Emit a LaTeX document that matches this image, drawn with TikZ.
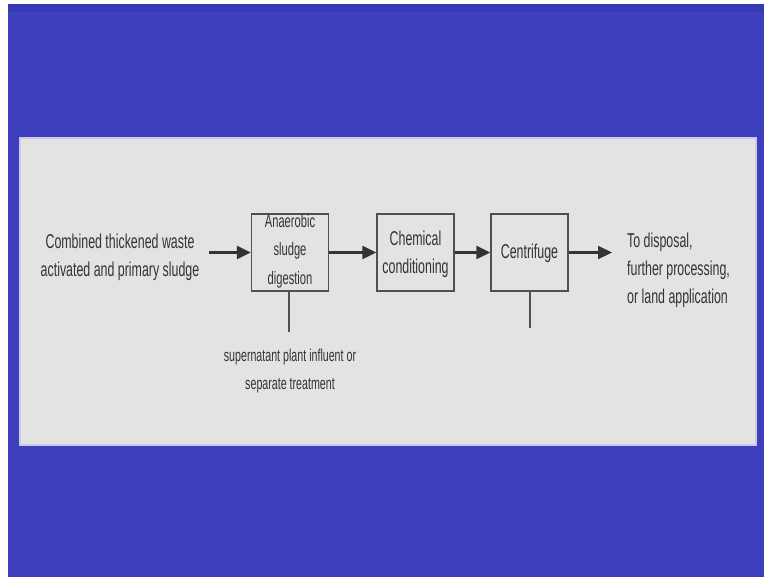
\documentclass[tikz,border=0pt]{standalone}
\usepackage{fontspec}
\newfontfamily\narrowsans{Liberation Sans}[FakeStretch=0.62]
\usetikzlibrary{arrows.meta}
\definecolor{slideblue}{HTML}{3E3FBC}
\definecolor{slidebluetop}{HTML}{3839B4}
\definecolor{panelgray}{HTML}{E3E4E1}
\definecolor{panelrim}{HTML}{C9C9EC}
\definecolor{inkgray}{HTML}{333333}
\definecolor{boxline}{HTML}{505050}
\tikzset{
  txt/.style={font=\narrowsans\fontsize{20}{28}\selectfont, text=inkgray, align=center, inner sep=0pt},
  smalltxt/.style={font=\narrowsans\fontsize{17.2}{28}\selectfont, text=inkgray, align=center, inner sep=0pt},
  stagebox/.style={draw=boxline, line width=1.3pt, fill=panelgray, minimum width=77pt, minimum height=77pt, inner sep=0pt},
  flow/.style={draw=inkgray, line width=2.2pt, -{Triangle[length=14pt,width=13pt]}},
  tap/.style={draw=boxline, line width=1.3pt}
}
\begin{document}
\begin{tikzpicture}[x=1pt,y=-1pt]
\useasboundingbox (0,0) rectangle (764,577);
% slide background
\fill[white] (0,0) rectangle (764,577);
\fill[slideblue] (8,4) rectangle (764,577);
\fill[slidebluetop] (8,4) rectangle (764,12);
% content panel
\fill[panelgray] (20,138) rectangle (756,445);
\draw[panelrim, line width=1.2pt] (20,138) rectangle (756,445);

% process stages
\node[stagebox] (dig) at (290,252.5) {};
\node[font=\narrowsans\fontsize{18}{28.5}\selectfont, text=inkgray, align=center, inner sep=0pt]
  (digtxt) at (290,251) {Anaerobic\\sludge\\digestion};
\node[stagebox] (chem) at (415.5,252.5) {};
\node[txt] (chemtxt) at (415.5,254) {Chemical\\conditioning};
\node[stagebox] (cen) at (529.5,252.5) {};
\node[txt] (centxt) at (529.5,253) {Centrifuge};

% feed and outlet texts
\node[txt, inner xsep=10pt] (feed) at (120,257.5) {Combined thickened waste\\activated and primary sludge};
\node[txt, align=left, anchor=west, inner xsep=15pt] (out) at (612,270) {To disposal,\\further processing,\\or land application};
\node[smalltxt] (sup) at (290,371) {supernatant plant influent or\\separate treatment};

% side streams
\coordinate (digtap) at (289,332);
\coordinate (centap) at (530,328);
\draw[tap] (dig.south -| digtap) -- (digtap);
\draw[tap] (cen.south -| centap) -- (centap);

% main flow
\draw[flow] (feed.east |- dig.west) -- (dig.west);
\draw[flow] (dig.east) -- (chem.west);
\draw[flow] (chem.east) -- (cen.west);
\draw[flow] (cen.east) -- (out.west |- cen.east);
\end{tikzpicture}
\end{document}
